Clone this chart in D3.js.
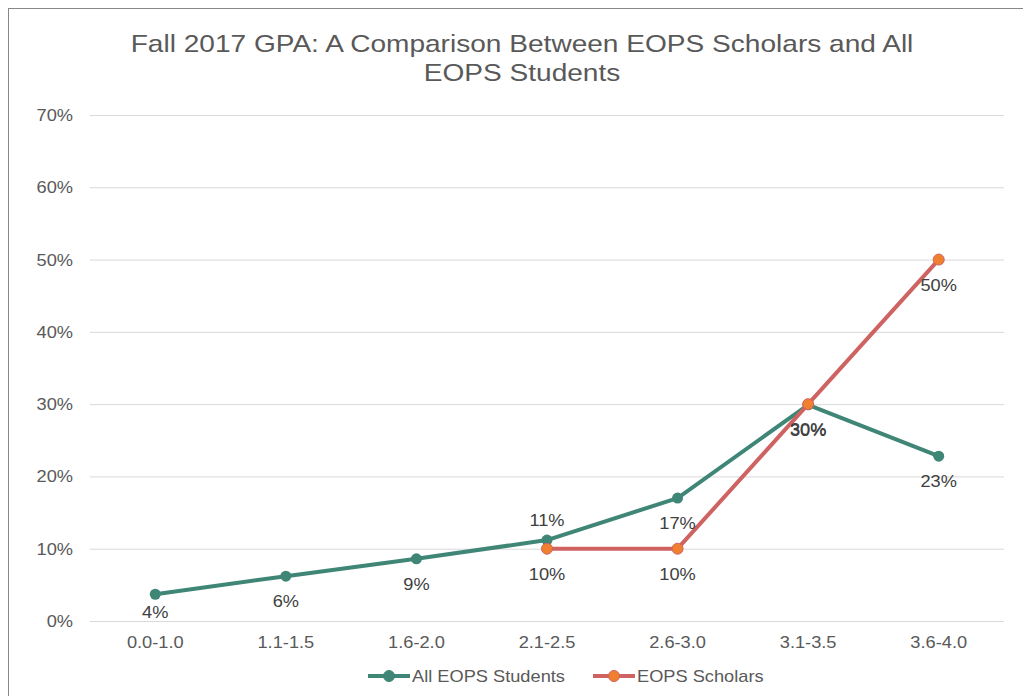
<!DOCTYPE html>
<html>
<head>
<meta charset="utf-8">
<script src="https://d3js.org/d3.v7.min.js"></script>
<style>
  body { margin: 0; background: #fff; font-family: 'Liberation Sans', Arial, sans-serif; }
</style>
</head>
<body>
<svg id="chart" width="1023" height="696"></svg>
<script>
// data
const categories = ["0.0-1.0", "1.1-1.5", "1.6-2.0", "2.1-2.5", "2.6-3.0", "3.1-3.5", "3.6-4.0"];
const allStudents = [0.037, 0.062, 0.086, 0.112, 0.170, 0.299, 0.228];
const scholars = [null, null, null, 0.10, 0.10, 0.30, 0.50];
const allLabelPos = ["below", "below", "below", "above", "below", "below", "below"];
const yTicks = [0, 0.1, 0.2, 0.3, 0.4, 0.5, 0.6, 0.7];

const svg = d3.select("#chart");
const margin = { top: 115, left: 90, right: 19, bottom: 75 };
const width = 1023 - margin.left - margin.right;
const height = 696 - margin.top - margin.bottom;

// the original's text runs a bit wider than Liberation Sans, so stretch it a little
const sx = 1.14;
function label(sel, x, y, txt, anchor, size, color) {
  return sel.append("text")
    .attr("transform", `translate(${x},${y}) scale(${sx},1)`)
    .attr("text-anchor", anchor)
    .attr("fill", color)
    .style("font-size", size + "px")
    .text(txt);
}

// outer border (chart box, cut off at right/bottom)
svg.append("rect")
  .attr("x", 8.5).attr("y", 8.5)
  .attr("width", 1030).attr("height", 700)
  .attr("fill", "#fff").attr("stroke", "#888").attr("stroke-width", 1);

// title
const title = svg.append("text")
  .attr("transform", "translate(522,0) scale(1.17,1)")
  .attr("text-anchor", "middle")
  .attr("fill", "#595959")
  .style("font-size", "24px");
title.append("tspan").attr("x", 0).attr("y", 52).text("Fall 2017 GPA: A Comparison Between EOPS Scholars and All");
title.append("tspan").attr("x", 0).attr("y", 81).text("EOPS Students");

const g = svg.append("g").attr("transform", `translate(${margin.left},${margin.top})`);

const x = d3.scaleBand().domain(categories).range([0, width]);
const y = d3.scaleLinear().domain([0, 0.7]).range([height, 0]);
const cx = d => x(d) + x.bandwidth() / 2;
const fmt = d3.format(".0%");

// gridlines
g.selectAll(".grid").data(yTicks).join("line")
  .attr("x1", 0).attr("x2", width)
  .attr("y1", d => y(d) + 0.5).attr("y2", d => y(d) + 0.5)
  .attr("stroke", "#d9d9d9").attr("stroke-width", 1);

// y axis labels
yTicks.forEach(t => label(g, -17, y(t) + 6, fmt(t), "end", 16, "#595959"));

// x axis labels
categories.forEach(c => label(g, cx(c), height + 27, c, "middle", 16, "#595959"));

const green = "#3f8676";
const red = "#cf6361";
const orange = "#f07f2f";

const allData = categories.map((c, i) => ({ c, v: allStudents[i], pos: allLabelPos[i] }));
const schData = categories.map((c, i) => ({ c, v: scholars[i] })).filter(d => d.v !== null);

const line = d3.line().x(d => cx(d.c)).y(d => y(d.v));

g.append("path").datum(allData)
  .attr("d", line).attr("fill", "none")
  .attr("stroke", green).attr("stroke-width", 4).attr("stroke-linejoin", "round").attr("stroke-linecap", "round");
g.selectAll(".ptA").data(allData).join("circle")
  .attr("cx", d => cx(d.c)).attr("cy", d => y(d.v)).attr("r", 5.5)
  .attr("fill", green);

g.append("path").datum(schData)
  .attr("d", line).attr("fill", "none")
  .attr("stroke", red).attr("stroke-width", 4).attr("stroke-linejoin", "round").attr("stroke-linecap", "round");
g.selectAll(".ptS").data(schData).join("circle")
  .attr("cx", d => cx(d.c)).attr("cy", d => y(d.v)).attr("r", 5.5)
  .attr("fill", orange).attr("stroke", red).attr("stroke-width", 1);

// data labels
allData.forEach(d => {
  const ly = d.pos === "above" ? y(d.v) - 14 : Math.min(y(d.v) + 31, height - 3);
  label(g, cx(d.c), ly, fmt(d.v), "middle", 16, "#404040");
});
schData.forEach(d => label(g, cx(d.c), y(d.v) + 31, fmt(d.v), "middle", 16, "#404040"));

// legend
const legend = svg.append("g").attr("transform", "translate(0,676)");
const items = [
  { name: "All EOPS Students", line: green, fill: green, stroke: green, x: 368 },
  { name: "EOPS Scholars", line: red, fill: orange, stroke: red, x: 593 }
];
items.forEach(it => {
  legend.append("line").attr("x1", it.x).attr("x2", it.x + 42).attr("y1", 0).attr("y2", 0)
    .attr("stroke", it.line).attr("stroke-width", 4);
  legend.append("circle").attr("cx", it.x + 21).attr("cy", 0).attr("r", 5.5)
    .attr("fill", it.fill).attr("stroke", it.stroke).attr("stroke-width", 1);
  label(legend, it.x + 44, 6, it.name, "start", 16, "#595959");
});
</script>
</body>
</html>
